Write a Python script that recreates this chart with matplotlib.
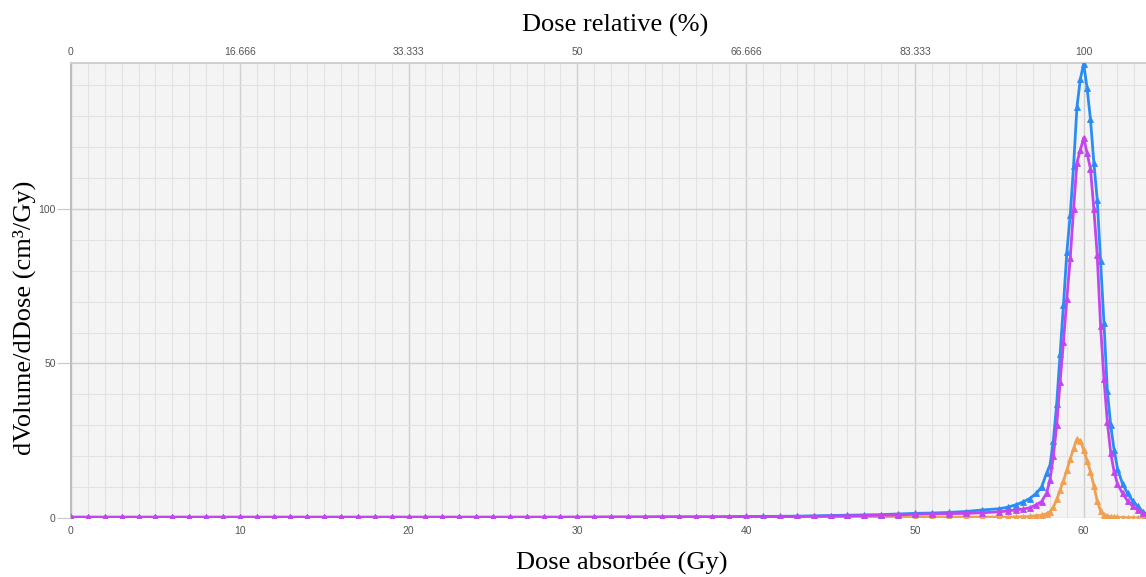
import matplotlib
matplotlib.use("Agg")
import matplotlib.pyplot as plt
from matplotlib.ticker import MultipleLocator

# ---- data ----
dose_gy = [0, 1, 2, 3, 4, 5, 6, 7, 8, 9, 10, 11, 12, 13, 14, 15, 16, 17, 18, 19,
           20, 21, 22, 23, 24, 25, 26, 27, 28, 29, 30, 31, 32, 33, 34, 35, 36, 37, 38, 39,
           40, 41, 42, 43, 44, 45, 46, 47, 48, 49, 50, 51, 52, 53, 54,
           55, 55.5, 56, 56.4, 56.8, 57.2, 57.5, 57.8, 58.0, 58.2, 58.4, 58.6, 58.8,
           59.0, 59.2, 59.4, 59.6, 59.8, 60.0, 60.2, 60.4, 60.6, 60.8, 61.0, 61.2,
           61.4, 61.6, 61.8, 62.0, 62.3, 62.6, 62.9, 63.2, 63.5, 63.8]

vol_blue = [0.3, 0.3, 0.3, 0.3, 0.3, 0.3, 0.3, 0.3, 0.3, 0.3, 0.3, 0.3, 0.3, 0.3, 0.3, 0.3, 0.3, 0.3, 0.3, 0.3,
            0.3, 0.3, 0.3, 0.3, 0.3, 0.3, 0.3, 0.3, 0.3, 0.3, 0.3, 0.3, 0.35, 0.35, 0.35, 0.4, 0.4, 0.4, 0.4, 0.45,
            0.5, 0.5, 0.55, 0.6, 0.7, 0.8, 0.9, 1.0, 1.1, 1.3, 1.5, 1.6, 1.8, 2.1, 2.6,
            3.0, 3.5, 4.3, 5.2, 6.3, 8.0, 10.0, 14.5, 17.0, 25, 37, 53, 69,
            86, 98, 114, 133, 142, 147, 139, 129, 115, 103, 83, 63,
            41, 30, 22, 16, 11, 8, 5.5, 3.8, 2.0, 1.0]

vol_magenta = [0.2, 0.2, 0.2, 0.2, 0.2, 0.2, 0.2, 0.2, 0.2, 0.2, 0.2, 0.2, 0.2, 0.2, 0.2, 0.2, 0.2, 0.2, 0.2, 0.2,
               0.2, 0.2, 0.2, 0.2, 0.2, 0.2, 0.2, 0.2, 0.2, 0.2, 0.25, 0.25, 0.25, 0.25, 0.3, 0.3, 0.3, 0.3, 0.3, 0.35,
               0.4, 0.4, 0.45, 0.5, 0.55, 0.6, 0.7, 0.8, 0.9, 1.0, 1.2, 1.3, 1.4, 1.5, 1.7,
               2.0, 2.3, 2.6, 2.9, 3.3, 4.3, 5.3, 8.0, 12.3, 20, 30, 44, 57,
               71, 84, 100, 115, 119, 123, 118, 113, 100, 85, 62, 45,
               31, 21, 15, 11, 8, 5.5, 3.8, 2.6, 1.5, 0.8]

vol_orange = [0.1, 0.1, 0.1, 0.1, 0.1, 0.1, 0.1, 0.1, 0.1, 0.1, 0.1, 0.1, 0.1, 0.1, 0.1, 0.1, 0.1, 0.1, 0.1, 0.1,
              0.1, 0.1, 0.1, 0.1, 0.1, 0.1, 0.1, 0.1, 0.1, 0.1, 0.1, 0.1, 0.1, 0.1, 0.1, 0.1, 0.1, 0.1, 0.1, 0.1,
              0.1, 0.1, 0.1, 0.1, 0.15, 0.15, 0.15, 0.2, 0.2, 0.2, 0.2, 0.25, 0.25, 0.3, 0.3,
              0.3, 0.3, 0.35, 0.4, 0.5, 0.7, 0.9, 1.4, 2.0, 3.5, 6.0, 9.0, 12.0,
              15.5, 19.0, 22.5, 25.5, 25.0, 22.0, 18.5, 15.0, 10.5, 5.5, 2.3, 1.0,
              0.6, 0.4, 0.3, 0.2, 0.15, 0.1, 0.1, 0.1, 0.1, 0.1]

top_tick_gy = [0, 10, 20, 30, 40, 50, 60]
top_tick_labels = ["0", "16.666", "33.333", "50", "66.666", "83.333", "100"]

# ---- figure ----
W, H = 1146, 577
fig = plt.figure(figsize=(W / 100, H / 100), dpi=100)
ax = fig.add_axes([71 / W, 1 - 518 / H, (W - 71) / W, (518 - 63) / H])
ax.set_facecolor("#f4f4f4")

ax.set_xlim(0, 63.69)
ax.set_ylim(0, 147.2)

ax.xaxis.set_major_locator(MultipleLocator(10))
ax.xaxis.set_minor_locator(MultipleLocator(1))
ax.yaxis.set_major_locator(MultipleLocator(50))
ax.yaxis.set_minor_locator(MultipleLocator(10))
ax.grid(which="major", color="#cfcfcf", linewidth=1.0, zorder=0)
ax.grid(which="minor", color="#e2e2e2", linewidth=0.8, zorder=0)
ax.set_axisbelow(True)

series = [
    (vol_orange, "#f0a050"),
    (vol_blue, "#2a8cf5"),
    (vol_magenta, "#c444ee"),
]
for vals, col in series:
    ax.plot(dose_gy, vals, color=col, linewidth=2.0, marker="^",
            markersize=4, markeredgewidth=0.6, zorder=3, clip_on=True)

for s in ["right", "bottom"]:
    ax.spines[s].set_visible(False)
ax.spines["left"].set_color("#bdbdbd")
ax.spines["left"].set_linewidth(1.5)
ax.spines["top"].set_color("#cfcfcf")
ax.spines["top"].set_linewidth(1.5)

tick_font = dict(family=["Liberation Sans", "DejaVu Sans"], size=7.5)
ax.tick_params(axis="x", which="both", length=0, pad=6, labelcolor="#555555")
ax.tick_params(axis="y", which="major", length=10, color="#c8c8c8", pad=1,
               labelcolor="#555555")
ax.tick_params(axis="y", which="minor", length=0)
ax.set_xticks([0, 10, 20, 30, 40, 50, 60])
ax.set_xticklabels(["0", "10", "20", "30", "40", "50", "60"], **tick_font)
ax.set_yticks([0, 50, 100])
ax.set_yticklabels(["0", "50", "100"], **tick_font)

top = ax.secondary_xaxis("top")
top.set_xticks(top_tick_gy)
top.set_xticklabels(top_tick_labels, **tick_font)
top.tick_params(length=0, pad=4, labelcolor="#555555")
top.spines["top"].set_visible(False)

serif = dict(family=["Liberation Serif", "DejaVu Serif"], size=19, color="black")
fig.text(615 / W, 1 - 25 / H, "Dose relative (%)", ha="center", va="center", **serif)
fig.text(622 / W, 1 - 563 / H, "Dose absorbée (Gy)", ha="center", va="center", **serif)
fig.text(24 / W, 1 - 318 / H, "dVolume/dDose (cm³/Gy)", ha="center", va="center",
         rotation=90, **serif)

fig.savefig("out.png", dpi=100)
